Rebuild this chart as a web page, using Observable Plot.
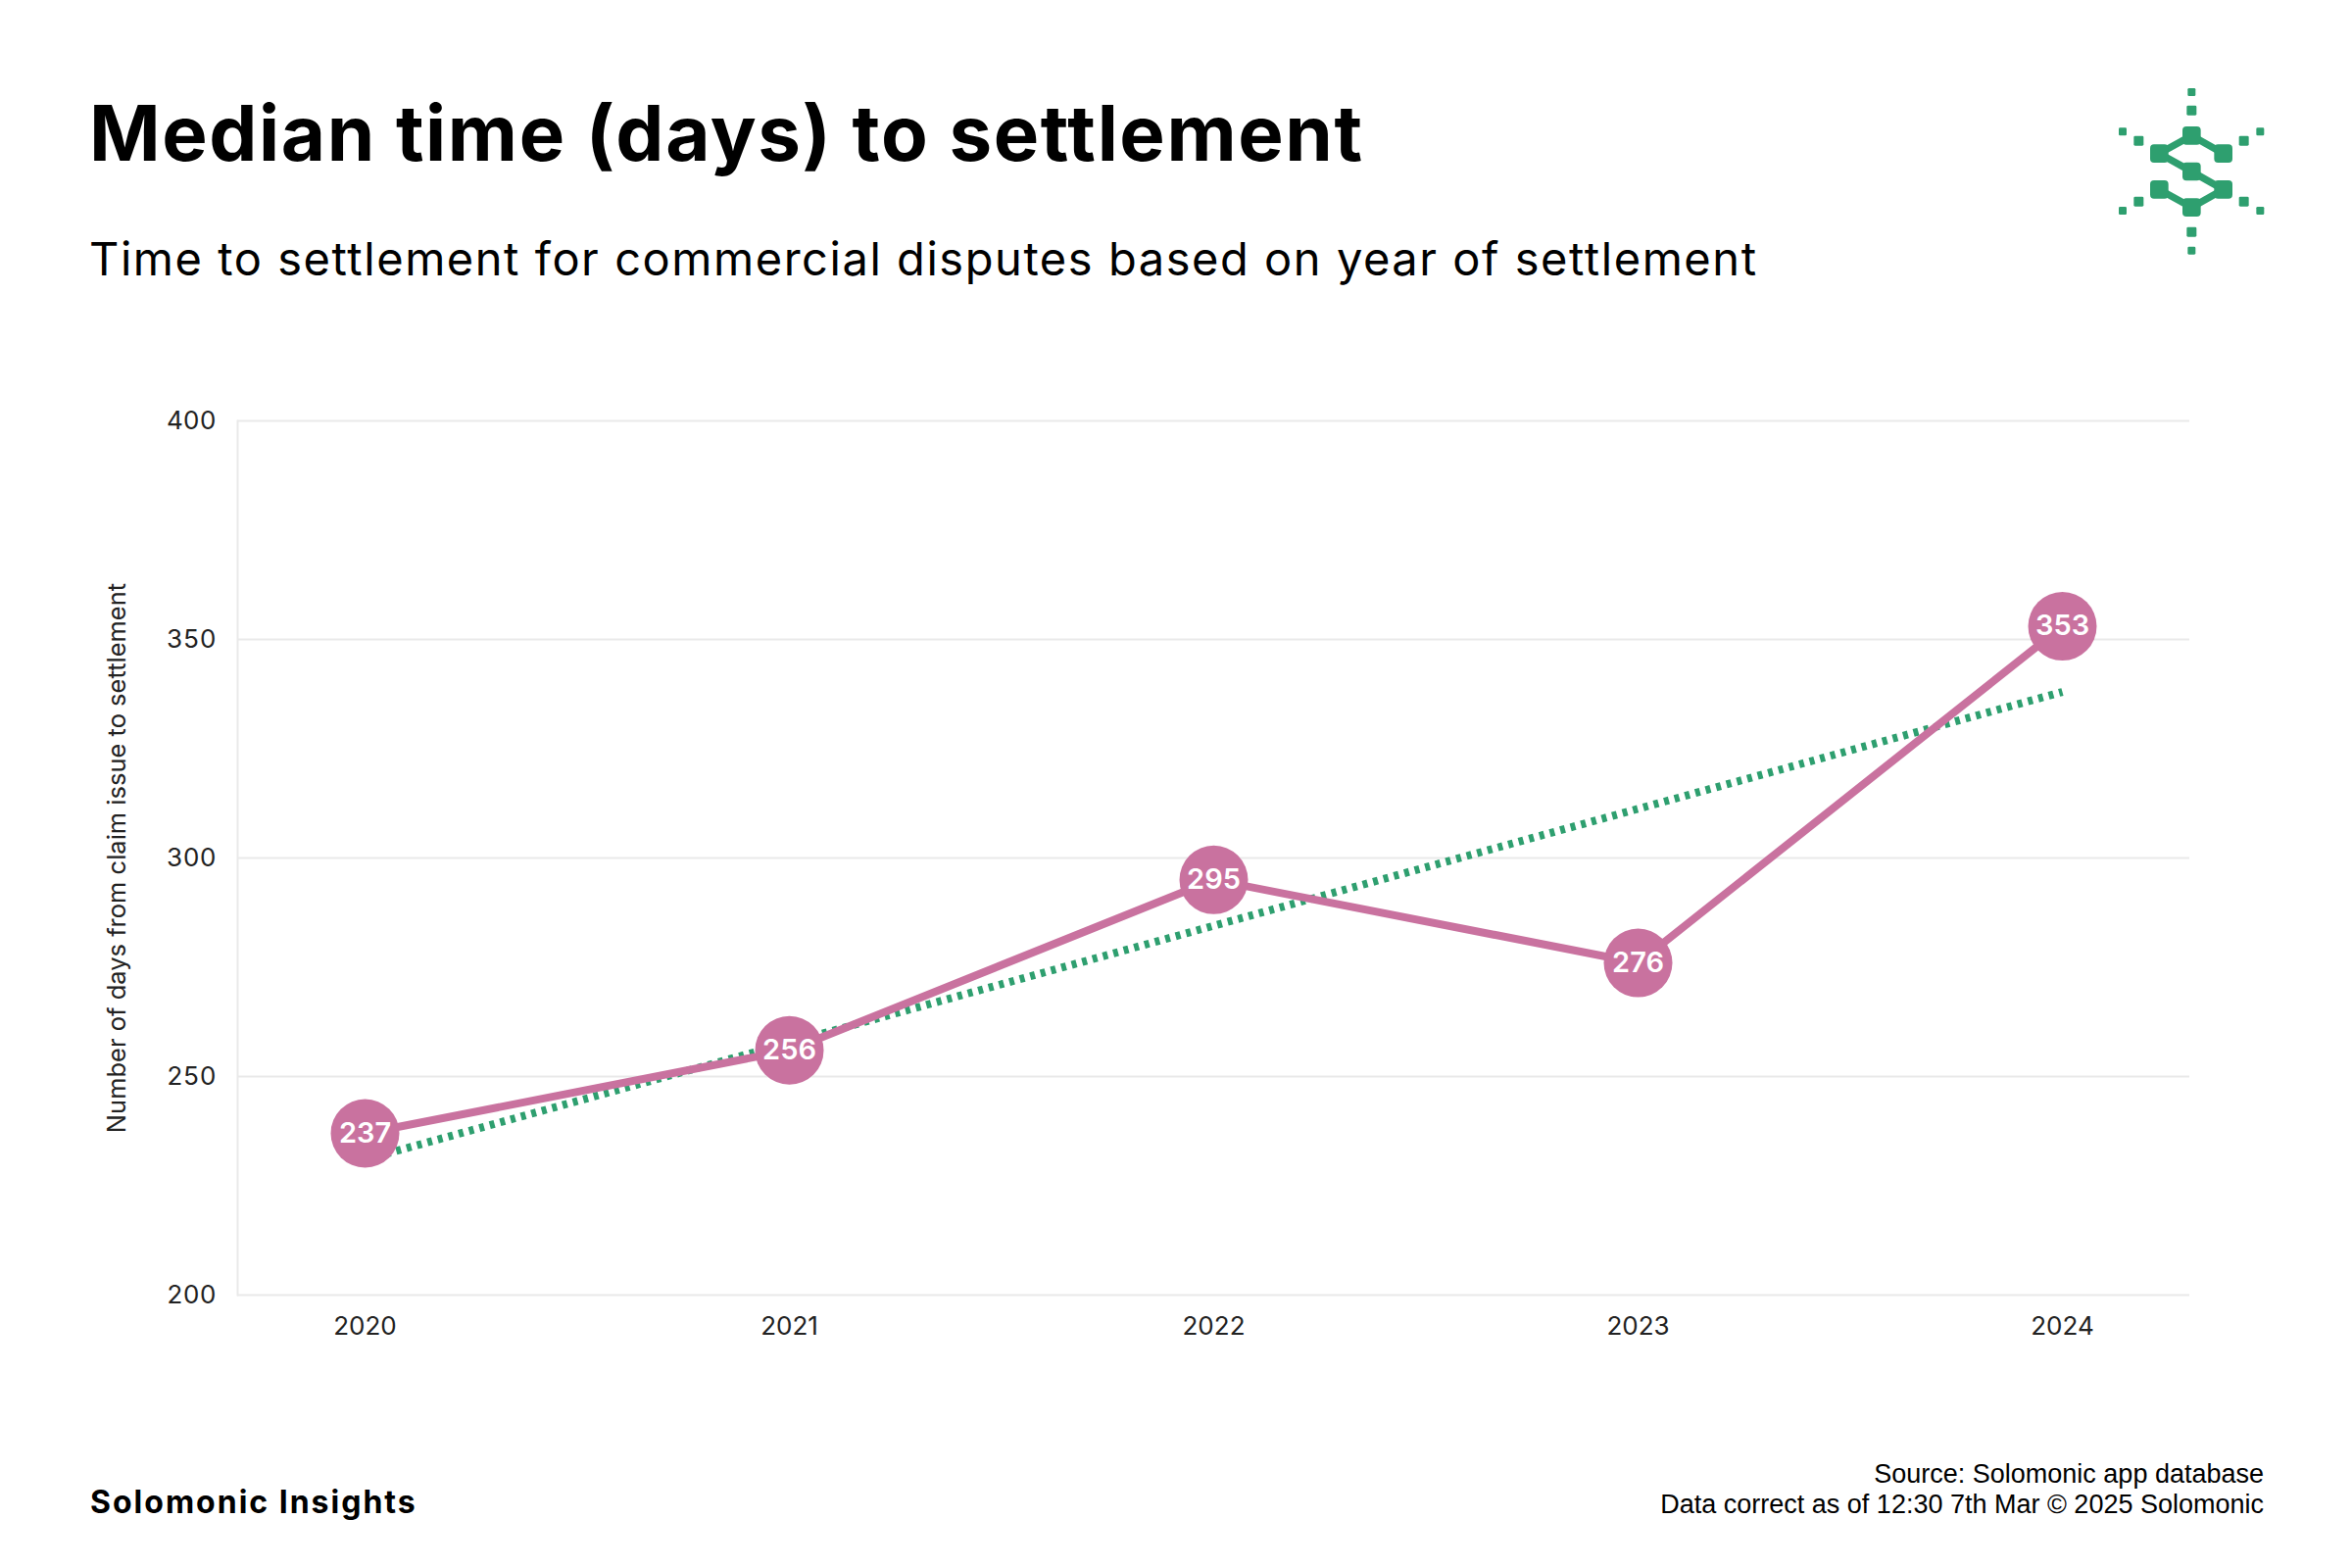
<!DOCTYPE html>
<html>
<head>
<meta charset="utf-8">
<script src="https://cdn.jsdelivr.net/npm/d3@7"></script>
<script src="https://cdn.jsdelivr.net/npm/@observablehq/plot@0.6"></script>
<style>
  html, body { margin: 0; padding: 0; background: #fff; }
  #page { position: relative; width: 2400px; height: 1600px; background: #fff; overflow: hidden; }
  .title { position: absolute; left: 91px; top: 88px; font-family: Inter, sans-serif; font-weight: 700; font-size: 78px; color: #000; letter-spacing: 1.6px; white-space: nowrap; }
  .subtitle { position: absolute; left: 91px; top: 235px; font-family: Inter, sans-serif; font-weight: 400; font-size: 47px; color: #000; letter-spacing: 1.55px; white-space: nowrap; }
  .brand { position: absolute; left: 92px; top: 1513px; font-family: Inter, sans-serif; font-weight: 700; font-size: 32px; color: #000; letter-spacing: 2px; white-space: nowrap; }
  .source { position: absolute; right: 90px; top: 1489px; font-family: "Liberation Sans", Arial, sans-serif; font-size: 27px; line-height: 31px; color: #000; text-align: right; white-space: nowrap; }
  #chart { position: absolute; left: 0; top: 380px; }
  #logo { position: absolute; left: 2160px; top: 70px; width: 200px; height: 210px; }
</style>
</head>
<body>
<div id="page">
  <div class="title">Median time (days) to settlement</div>
  <div class="subtitle">Time to settlement for commercial disputes based on year of settlement</div>
  <svg id="logo" viewBox="0 0 600 630"></svg>
  <div id="chart"></div>
  <div class="brand">Solomonic Insights</div>
  <div class="source">Source: Solomonic app database<br>Data correct as of 12:30 7th Mar © 2025 Solomonic</div>
</div>
<script>
// ---- Data ----
const years = ["2020", "2021", "2022", "2023", "2024"];
const medianDays = [237, 256, 295, 276, 353];
const trendYears = ["2020", "2024"];
const trendDays = [231, 338];
const yTicks = [200, 250, 300, 350, 400];
const yLabel = "Number of days from claim issue to settlement";

const pink = "#c9729f";
const green = "#2e9f6f";

const points = years.map((y, i) => ({year: y, days: medianDays[i]}));
const trend = trendYears.map((y, i) => ({year: y, days: trendDays[i]}));

const chart = Plot.plot({
  width: 2400,
  height: 1011,
  marginLeft: 242,
  marginRight: 166,
  marginTop: 49,
  marginBottom: 70,
  style: {fontFamily: "Inter, sans-serif", fontSize: "26px", color: "#222", background: "#fff"},
  x: {type: "point", domain: years, padding: 0.3, label: null},
  y: {domain: [200, 400], ticks: yTicks, label: null},
  marks: [
    Plot.gridY(yTicks, {stroke: "#e9e9e9", strokeOpacity: 1, strokeWidth: 2}),
    Plot.frame({anchor: "left", stroke: "#e9e9e9", strokeWidth: 2}),
    Plot.axisY({ticks: yTicks, tickSize: 0, tickPadding: 22, label: null, fontSize: 26}),
    Plot.axisX({tickSize: 0, tickPadding: 22, label: null, fontSize: 26}),
    Plot.text([yLabel], {frameAnchor: "left", textAnchor: "middle", rotate: -90, dx: -123, fontSize: 25.5, fill: "#222"}),
    Plot.line(trend, {x: "year", y: "days", stroke: green, strokeWidth: 8, strokeDasharray: "5 6", strokeLinecap: "butt"}),
    Plot.line(points, {x: "year", y: "days", stroke: pink, strokeWidth: 8}),
    Plot.dot(points, {x: "year", y: "days", r: 35, fill: pink, stroke: "none"}),
    Plot.text(points, {x: "year", y: "days", text: d => String(d.days), fill: "#fff", fontSize: 29, fontWeight: 600})
  ]
});
document.getElementById("chart").appendChild(chart);

// ---- Logo (decorative) ----
const logo = d3.select("#logo");
const nodes = [[229,205],[130,260],[326,260],[229,315],[130,370],[326,370],[229,425]];
const links = [[0,1],[0,2],[1,3],[3,5],[5,6],[6,4]];
links.forEach(([a,b]) => {
  logo.append("line").attr("x1", nodes[a][0]).attr("y1", nodes[a][1]).attr("x2", nodes[b][0]).attr("y2", nodes[b][1])
    .attr("stroke", green).attr("stroke-width", 22);
});
nodes.forEach(([x,y]) => {
  logo.append("rect").attr("x", x-28).attr("y", y-28).attr("width", 56).attr("height", 56).attr("rx", 12).attr("fill", green);
});
const dots = [[229,72,24],[229,128,30],[229,500,30],[229,557,24],[18,193,24],[67,221,30],[389,221,30],[439,193,24],[67,407,30],[18,435,24],[389,407,30],[439,435,24]];
dots.forEach(([x,y,s]) => {
  logo.append("rect").attr("x", x-s/2).attr("y", y-s/2).attr("width", s).attr("height", s).attr("rx", 4).attr("fill", green);
});
</script>
</body>
</html>
